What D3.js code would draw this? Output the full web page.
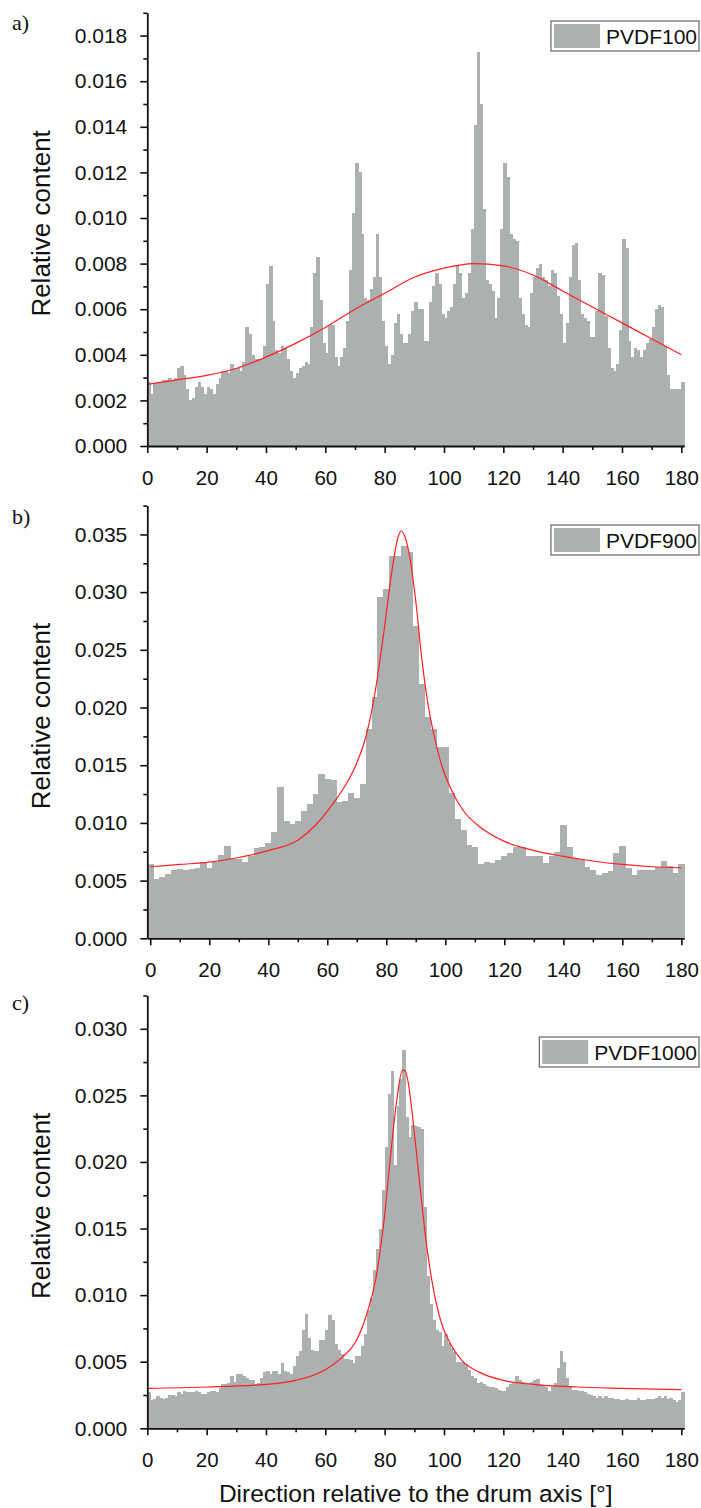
<!DOCTYPE html>
<html>
<head>
<meta charset="utf-8">
<script src="https://cdn.jsdelivr.net/npm/d3@7/dist/d3.min.js"></script>
<style>
  body { margin: 0; background: #fff; }
  svg { display: block; }
</style>
</head>
<body>
<div id="chart"></div>
<script>
// ---- data ----
// PVDF100: 1 degree bins, 0..180
const pvdf100 = [
  0.0028, 0.0023, 0.0027, 0.0028, 0.0028, 0.0029, 0.0029, 0.0030, 0.0029, 0.0030,
  0.0034, 0.0035, 0.0031, 0.0025, 0.0020, 0.0021, 0.0026, 0.0028, 0.0026, 0.0023,
  0.0026, 0.0025, 0.0023, 0.0027, 0.0030, 0.0033, 0.0033, 0.0032, 0.0036, 0.0034,
  0.0034, 0.0033, 0.0037, 0.0052, 0.0049, 0.0040, 0.0038, 0.0038, 0.0038, 0.0044,
  0.0071, 0.0079, 0.0055, 0.0042, 0.0041, 0.0044, 0.0043, 0.0038, 0.0033, 0.0030,
  0.0032, 0.0034, 0.0035, 0.0037, 0.0036, 0.0052, 0.0076, 0.0083, 0.0064, 0.0045,
  0.0041, 0.0053, 0.0053, 0.0039, 0.0035, 0.0039, 0.0043, 0.0055, 0.0077, 0.0102,
  0.0124, 0.0120, 0.0093, 0.0065, 0.0064, 0.0069, 0.0074, 0.0093, 0.0074, 0.0055,
  0.0044, 0.0036, 0.0040, 0.0054, 0.0058, 0.0049, 0.0045, 0.0045, 0.0049, 0.0059,
  0.0063, 0.0060, 0.0060, 0.0046, 0.0046, 0.0063, 0.0070, 0.0076, 0.0071, 0.0058,
  0.0056, 0.0059, 0.0061, 0.0071, 0.0079, 0.0076, 0.0065, 0.0067, 0.0076, 0.0095,
  0.0141, 0.0173, 0.0150, 0.0104, 0.0073, 0.0071, 0.0068, 0.0056, 0.0065, 0.0095,
  0.0124, 0.0118, 0.0093, 0.0091, 0.0090, 0.0065, 0.0058, 0.0053, 0.0052, 0.0067,
  0.0074, 0.0078, 0.0080, 0.0074, 0.0073, 0.0070, 0.0077, 0.0076, 0.0066, 0.0058,
  0.0045, 0.0054, 0.0074, 0.0088, 0.0089, 0.0073, 0.0058, 0.0056, 0.0055, 0.0048,
  0.0048, 0.0059, 0.0076, 0.0075, 0.0057, 0.0043, 0.0034, 0.0033, 0.0036, 0.0051,
  0.0091, 0.0087, 0.0046, 0.0039, 0.0043, 0.0042, 0.0039, 0.0042, 0.0045, 0.0047,
  0.0052, 0.0060, 0.0062, 0.0061, 0.0044, 0.0031, 0.0025, 0.0025, 0.0025, 0.0025,
  0.0028
];
// PVDF900: 2 degree bins centred on 0,2,..,180
const pvdf900 = [
  0.0064, 0.0051, 0.0053, 0.0056, 0.0059, 0.0060, 0.0059, 0.0060, 0.0061, 0.0066,
  0.0061, 0.0066, 0.0072, 0.0080, 0.0069, 0.0069, 0.0066, 0.0071, 0.0078, 0.0079,
  0.0083, 0.0092, 0.0131, 0.0102, 0.0099, 0.0102, 0.0110, 0.0116, 0.0125, 0.0142,
  0.0138, 0.0137, 0.0118, 0.0119, 0.0126, 0.0122, 0.0134, 0.0181, 0.0209, 0.0296,
  0.0303, 0.0331, 0.0331, 0.0340, 0.0335, 0.0271, 0.0220, 0.0192, 0.0181, 0.0166,
  0.0166, 0.0126, 0.0103, 0.0094, 0.0081, 0.0079, 0.0064, 0.0066, 0.0065, 0.0068,
  0.0071, 0.0074, 0.0079, 0.0079, 0.0071, 0.0071, 0.0071, 0.0065, 0.0071, 0.0075,
  0.0098, 0.0079, 0.0069, 0.0068, 0.0062, 0.0059, 0.0055, 0.0057, 0.0058, 0.0074,
  0.0080, 0.0061, 0.0055, 0.0059, 0.0059, 0.0059, 0.0062, 0.0067, 0.0063, 0.0057,
  0.0064
];
// PVDF1000: 1 degree bins, 0..180
const pvdf1000 = [
  0.0027, 0.0021, 0.0022, 0.0024, 0.0023, 0.0022, 0.0023, 0.0025, 0.0025, 0.0024,
  0.0027, 0.0026, 0.0028, 0.0027, 0.0027, 0.0027, 0.0028, 0.0027, 0.0026, 0.0026,
  0.0027, 0.0028, 0.0028, 0.0027, 0.0030, 0.0033, 0.0033, 0.0034, 0.0039, 0.0035,
  0.0041, 0.0041, 0.0039, 0.0038, 0.0036, 0.0036, 0.0033, 0.0034, 0.0038, 0.0042,
  0.0043, 0.0041, 0.0043, 0.0043, 0.0041, 0.0049, 0.0043, 0.0042, 0.0041, 0.0047,
  0.0054, 0.0058, 0.0074, 0.0086, 0.0068, 0.0059, 0.0058, 0.0058, 0.0066, 0.0066,
  0.0074, 0.0085, 0.0081, 0.0063, 0.0059, 0.0056, 0.0052, 0.0052, 0.0051, 0.0049,
  0.0054, 0.0054, 0.0062, 0.0071, 0.0089, 0.0098, 0.0119, 0.0135, 0.0150, 0.0179,
  0.0211, 0.0251, 0.0268, 0.0198, 0.0242, 0.0262, 0.0284, 0.0234, 0.0219, 0.0228,
  0.0227, 0.0226, 0.0225, 0.0166, 0.0114, 0.0093, 0.0081, 0.0074, 0.0072, 0.0062,
  0.0071, 0.0064, 0.0060, 0.0057, 0.0050, 0.0050, 0.0050, 0.0048, 0.0044, 0.0039,
  0.0038, 0.0034, 0.0035, 0.0033, 0.0032, 0.0031, 0.0031, 0.0030, 0.0029, 0.0028,
  0.0028, 0.0031, 0.0033, 0.0034, 0.0039, 0.0036, 0.0035, 0.0034, 0.0034, 0.0035,
  0.0036, 0.0037, 0.0033, 0.0032, 0.0031, 0.0028, 0.0032, 0.0034, 0.0045, 0.0058,
  0.0050, 0.0038, 0.0031, 0.0029, 0.0029, 0.0028, 0.0028, 0.0027, 0.0026, 0.0025,
  0.0024, 0.0023, 0.0024, 0.0023, 0.0024, 0.0023, 0.0023, 0.0022, 0.0022, 0.0021,
  0.0021, 0.0022, 0.0021, 0.0021, 0.0021, 0.0023, 0.0021, 0.0021, 0.0022, 0.0022,
  0.0022, 0.0023, 0.0024, 0.0023, 0.0024, 0.0022, 0.0023, 0.0021, 0.0020, 0.0021,
  0.0027
];

// fitted curves (red), sampled off the figure
const fit100Deg = [0, 10, 20, 30, 40, 50, 60, 70, 80, 90, 100, 110, 120, 130, 140, 150, 160, 170, 180];
const fit100Val = [0.0027, 0.0029, 0.0031, 0.0034, 0.0039, 0.0045, 0.0052, 0.0060, 0.0067, 0.0074,
                   0.0078, 0.0080, 0.0079, 0.0075, 0.0068, 0.0061, 0.0054, 0.0047, 0.0040];

const fit900Deg = [0, 10, 20, 30, 40, 50, 56, 62, 66, 70, 73, 76, 79, 82, 84, 85, 86, 88, 90,
                   92, 94, 96, 99, 102, 106, 112, 120, 130, 140, 150, 160, 170, 180];
const fit900Val = [0.0062, 0.0064, 0.0066, 0.0070, 0.0076, 0.0085, 0.0098, 0.0117, 0.0132, 0.0152,
                   0.0174, 0.0210, 0.0262, 0.0320, 0.0348, 0.0353, 0.0350, 0.0330, 0.0292,
                   0.0243, 0.0205, 0.0178, 0.0148, 0.0129, 0.0111, 0.0096, 0.0084, 0.0076,
                   0.0071, 0.0067, 0.0064, 0.0062, 0.0061];

const fit1000Deg = [0, 20, 40, 50, 60, 66, 70, 74, 77, 80, 82, 84, 86, 87, 88, 90, 92, 94, 96,
                    99, 102, 106, 112, 120, 130, 145, 160, 180];
const fit1000Val = [0.0030, 0.0031, 0.0033, 0.0036, 0.0044, 0.0054, 0.0064, 0.0086, 0.0112, 0.0160,
                    0.0205, 0.0245, 0.0269, 0.0268, 0.0259, 0.0222, 0.0180, 0.0140, 0.0110,
                    0.0080, 0.0064, 0.0051, 0.0042, 0.0036, 0.0033, 0.0031, 0.0030, 0.0029];

const xMajor = [0, 20, 40, 60, 80, 100, 120, 140, 160, 180];
const xMinor = [10, 30, 50, 70, 90, 110, 130, 150, 170];

// ---- layout ----
const width = 701, height = 1508;
const barColor = "#acb0b0";
const fontSans = "'Liberation Sans', Arial, Helvetica, sans-serif";

const svg = d3.select("#chart").append("svg")
  .attr("width", width)
  .attr("height", height);

const panels = [
  { letter: "a)", name: "PVDF100", values: pvdf100, binW: 1, start: 0,
    xDom: [0, 181], yTop: 0.019, yStep: 0.002, nMajor: 10,
    top: 12.8, bottom: 446, fitX: fit100Deg, fitY: fit100Val,
    letterY: 30, legendY: 21 },
  { letter: "b)", name: "PVDF900", values: pvdf900, binW: 2, start: -1,
    xDom: [-1, 181], yTop: 0.0375, yStep: 0.005, nMajor: 8,
    top: 505.6, bottom: 938.3, fitX: fit900Deg, fitY: fit900Val,
    letterY: 524, legendY: 525 },
  { letter: "c)", name: "PVDF1000", values: pvdf1000, binW: 1, start: 0,
    xDom: [0, 181], yTop: 0.0325, yStep: 0.005, nMajor: 7,
    top: 995.5, bottom: 1428.3, fitX: fit1000Deg, fitY: fit1000Val,
    letterY: 1010, legendY: 1037 }
];

const left = 147.3, right = 684.3;

panels.forEach(p => {
  let x = d3.scaleLinear().domain(p.xDom).range([left, right]);
  let y = d3.scaleLinear().domain([0, p.yTop]).range([p.bottom, p.top]);
  let g = svg.append("g");

  // bars
  g.append("g")
    .selectAll("rect")
    .data(p.values)
    .enter().append("rect")
    .attr("x", (d, i) => x(p.start + i * p.binW))
    .attr("width", x(p.binW) - x(0) + 0.6)
    .attr("y", d => y(d))
    .attr("height", d => y(0) - y(d))
    .attr("fill", barColor)
    .attr("shape-rendering", "crispEdges");

  // fitted curve
  let line = d3.line()
    .x(d => x(d[0]))
    .y(d => y(d[1]))
    .curve(d3.curveMonotoneX);
  g.append("path")
    .datum(p.fitX.map((v, i) => [v, p.fitY[i]]))
    .attr("d", line)
    .attr("fill", "none")
    .attr("stroke", "#ff2020")
    .attr("stroke-width", 1.2);

  // y axis
  let yMaj = d3.range(p.nMajor).map(i => +(i * p.yStep).toFixed(4));
  let yMin = d3.range(p.nMajor).map(i => +((i + 0.5) * p.yStep).toFixed(5));
  let fmt = d3.format(".3f");

  g.append("g")
    .attr("transform", `translate(${left},0)`)
    .call(d3.axisLeft(y).tickValues(yMin).tickSize(4).tickSizeOuter(0).tickFormat(""))
    .call(a => a.select(".domain").remove());
  let ya = g.append("g")
    .attr("transform", `translate(${left},0)`)
    .call(d3.axisLeft(y).tickValues(yMaj).tickSize(7).tickSizeOuter(0).tickPadding(13).tickFormat(fmt));
  ya.selectAll("text").attr("font-size", 21).attr("font-family", fontSans).attr("fill", "#111");

  // x axis
  g.append("g")
    .attr("transform", `translate(0,${p.bottom})`)
    .call(d3.axisBottom(x).tickValues(xMinor).tickSize(4).tickSizeOuter(0).tickFormat(""))
    .call(a => a.select(".domain").remove());
  let xa = g.append("g")
    .attr("transform", `translate(0,${p.bottom})`)
    .call(d3.axisBottom(x).tickValues(xMajor).tickSize(7).tickSizeOuter(0).tickPadding(17));
  xa.selectAll("text").attr("font-size", 20.5).attr("font-family", fontSans).attr("fill", "#111");

  g.selectAll(".domain").attr("stroke-width", 1.8).attr("stroke", "#111");
  g.selectAll(".tick line").attr("stroke-width", 1.6).attr("stroke", "#111");

  // axis title
  g.append("text")
    .attr("transform", `translate(50,${(p.top + p.bottom) / 2 - 6}) rotate(-90)`)
    .attr("text-anchor", "middle")
    .attr("font-family", fontSans)
    .attr("font-size", 26)
    .attr("fill", "#111")
    .text("Relative content");

  // panel letter
  g.append("text")
    .attr("x", 12)
    .attr("y", p.letterY)
    .attr("font-family", "'Liberation Serif', 'Times New Roman', serif")
    .attr("font-size", 22)
    .attr("fill", "#111")
    .text(p.letter);

  // legend
  let lg = g.append("g");
  let lt = lg.append("text")
    .attr("x", 697)
    .attr("y", p.legendY + 22.5)
    .attr("text-anchor", "end")
    .attr("font-family", fontSans)
    .attr("font-size", 21)
    .attr("fill", "#111")
    .text(p.name);
  let tw = lt.node().getComputedTextLength();
  let boxX = 697 - tw - 5 - 48 - 2;
  lg.insert("rect", "text")
    .attr("x", boxX)
    .attr("y", p.legendY)
    .attr("width", 699 - boxX)
    .attr("height", 30)
    .attr("fill", "#fff")
    .attr("stroke", "#444")
    .attr("stroke-width", 1);
  lg.insert("rect", "text")
    .attr("x", boxX + 2.5)
    .attr("y", p.legendY + 2.5)
    .attr("width", 47)
    .attr("height", 25)
    .attr("fill", barColor)
    .attr("stroke", "#fff")
    .attr("stroke-width", 1);
});

svg.append("text")
  .attr("x", (left + right) / 2)
  .attr("y", 1502)
  .attr("text-anchor", "middle")
  .attr("font-family", fontSans)
  .attr("font-size", 24.5)
  .attr("fill", "#111")
  .text("Direction relative to the drum axis [°]");
</script>
</body>
</html>
